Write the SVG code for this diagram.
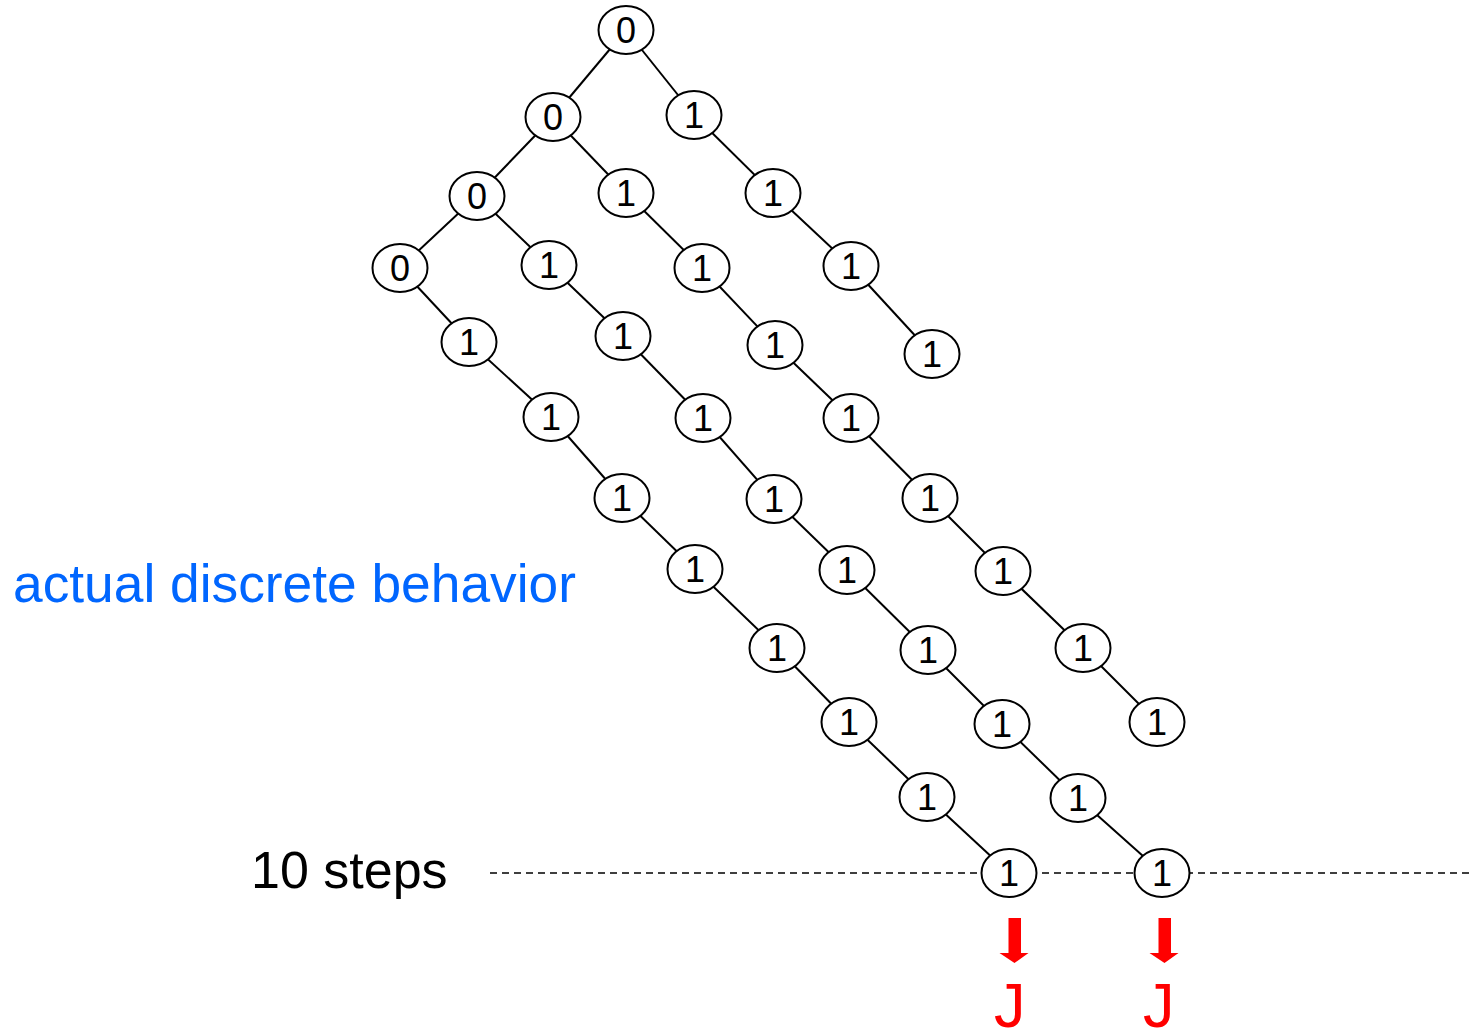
<svg xmlns="http://www.w3.org/2000/svg" width="1473" height="1031" viewBox="0 0 1473 1031">
<style>
.e{stroke:#000;stroke-width:2;fill:none}
.n ellipse{fill:#fff;stroke:#000;stroke-width:2}
.n text{fill:#000;text-anchor:middle}
.arr{fill:#ff0000}
</style>
<defs>
<path id="barrow" d="M-5.5,0 H7 V35 H14.5 L0.5,45 L-14.5,35 H-5.5 Z"/>
</defs>
<rect width="1473" height="1031" fill="#fff"/>
<g id="connectors">
<line x1="490" y1="873" x2="1473" y2="873" stroke="#000" stroke-width="1.5" stroke-dasharray="7,5"/>
<line class="e" x1="626" y1="30" x2="553" y2="117"/>
<line class="e" x1="626" y1="30" x2="694" y2="115"/>
<line class="e" x1="553" y1="117" x2="477" y2="196"/>
<line class="e" x1="553" y1="117" x2="626" y2="193"/>
<line class="e" x1="694" y1="115" x2="773" y2="193"/>
<line class="e" x1="477" y1="196" x2="400" y2="268"/>
<line class="e" x1="477" y1="196" x2="549" y2="265"/>
<line class="e" x1="626" y1="193" x2="702" y2="268"/>
<line class="e" x1="773" y1="193" x2="851" y2="266"/>
<line class="e" x1="400" y1="268" x2="469" y2="342"/>
<line class="e" x1="549" y1="265" x2="623" y2="336"/>
<line class="e" x1="702" y1="268" x2="775" y2="345"/>
<line class="e" x1="851" y1="266" x2="932" y2="354"/>
<line class="e" x1="469" y1="342" x2="551" y2="417"/>
<line class="e" x1="623" y1="336" x2="703" y2="418"/>
<line class="e" x1="775" y1="345" x2="851" y2="418"/>
<line class="e" x1="551" y1="417" x2="622" y2="498"/>
<line class="e" x1="703" y1="418" x2="774" y2="499"/>
<line class="e" x1="851" y1="418" x2="930" y2="498"/>
<line class="e" x1="622" y1="498" x2="695" y2="569"/>
<line class="e" x1="774" y1="499" x2="847" y2="570"/>
<line class="e" x1="930" y1="498" x2="1003" y2="571"/>
<line class="e" x1="695" y1="569" x2="777" y2="648"/>
<line class="e" x1="847" y1="570" x2="928" y2="650"/>
<line class="e" x1="1003" y1="571" x2="1083" y2="648"/>
<line class="e" x1="777" y1="648" x2="849" y2="722"/>
<line class="e" x1="928" y1="650" x2="1002" y2="724"/>
<line class="e" x1="1083" y1="648" x2="1157" y2="722"/>
<line class="e" x1="849" y1="722" x2="927" y2="797"/>
<line class="e" x1="1002" y1="724" x2="1078" y2="798"/>
<line class="e" x1="927" y1="797" x2="1009" y2="873"/>
<line class="e" x1="1078" y1="798" x2="1162" y2="873"/>
</g>
<g font-family="'Liberation Sans', Arial, sans-serif" font-size="36">
<g id="n1" class="n"><ellipse cx="626" cy="30" rx="27.5" ry="24"/><text x="626" y="43">0</text></g>
<g id="n2" class="n"><ellipse cx="553" cy="117" rx="27.5" ry="24"/><text x="553" y="130">0</text></g>
<g id="n3" class="n"><ellipse cx="694" cy="115" rx="27.5" ry="24"/><text x="694" y="128">1</text></g>
<g id="n4" class="n"><ellipse cx="477" cy="196" rx="27.5" ry="24"/><text x="477" y="209">0</text></g>
<g id="n5" class="n"><ellipse cx="626" cy="193" rx="27.5" ry="24"/><text x="626" y="206">1</text></g>
<g id="n6" class="n"><ellipse cx="773" cy="193" rx="27.5" ry="24"/><text x="773" y="206">1</text></g>
<g id="n7" class="n"><ellipse cx="400" cy="268" rx="27.5" ry="24"/><text x="400" y="281">0</text></g>
<g id="n8" class="n"><ellipse cx="549" cy="265" rx="27.5" ry="24"/><text x="549" y="278">1</text></g>
<g id="n9" class="n"><ellipse cx="702" cy="268" rx="27.5" ry="24"/><text x="702" y="281">1</text></g>
<g id="n10" class="n"><ellipse cx="851" cy="266" rx="27.5" ry="24"/><text x="851" y="279">1</text></g>
<g id="n11" class="n"><ellipse cx="469" cy="342" rx="27.5" ry="24"/><text x="469" y="355">1</text></g>
<g id="n12" class="n"><ellipse cx="623" cy="336" rx="27.5" ry="24"/><text x="623" y="349">1</text></g>
<g id="n13" class="n"><ellipse cx="775" cy="345" rx="27.5" ry="24"/><text x="775" y="358">1</text></g>
<g id="n14" class="n"><ellipse cx="932" cy="354" rx="27.5" ry="24"/><text x="932" y="367">1</text></g>
<g id="n15" class="n"><ellipse cx="551" cy="417" rx="27.5" ry="24"/><text x="551" y="430">1</text></g>
<g id="n16" class="n"><ellipse cx="703" cy="418" rx="27.5" ry="24"/><text x="703" y="431">1</text></g>
<g id="n17" class="n"><ellipse cx="851" cy="418" rx="27.5" ry="24"/><text x="851" y="431">1</text></g>
<g id="n18" class="n"><ellipse cx="622" cy="498" rx="27.5" ry="24"/><text x="622" y="511">1</text></g>
<g id="n19" class="n"><ellipse cx="774" cy="499" rx="27.5" ry="24"/><text x="774" y="512">1</text></g>
<g id="n20" class="n"><ellipse cx="930" cy="498" rx="27.5" ry="24"/><text x="930" y="511">1</text></g>
<g id="n21" class="n"><ellipse cx="695" cy="569" rx="27.5" ry="24"/><text x="695" y="582">1</text></g>
<g id="n22" class="n"><ellipse cx="847" cy="570" rx="27.5" ry="24"/><text x="847" y="583">1</text></g>
<g id="n23" class="n"><ellipse cx="1003" cy="571" rx="27.5" ry="24"/><text x="1003" y="584">1</text></g>
<g id="n24" class="n"><ellipse cx="777" cy="648" rx="27.5" ry="24"/><text x="777" y="661">1</text></g>
<g id="n25" class="n"><ellipse cx="928" cy="650" rx="27.5" ry="24"/><text x="928" y="663">1</text></g>
<g id="n26" class="n"><ellipse cx="1083" cy="648" rx="27.5" ry="24"/><text x="1083" y="661">1</text></g>
<g id="n27" class="n"><ellipse cx="849" cy="722" rx="27.5" ry="24"/><text x="849" y="735">1</text></g>
<g id="n28" class="n"><ellipse cx="1002" cy="724" rx="27.5" ry="24"/><text x="1002" y="737">1</text></g>
<g id="n29" class="n"><ellipse cx="1157" cy="722" rx="27.5" ry="24"/><text x="1157" y="735">1</text></g>
<g id="n30" class="n"><ellipse cx="927" cy="797" rx="27.5" ry="24"/><text x="927" y="810">1</text></g>
<g id="n31" class="n"><ellipse cx="1078" cy="798" rx="27.5" ry="24"/><text x="1078" y="811">1</text></g>
<g id="n32" class="n"><ellipse cx="1009" cy="873" rx="27.5" ry="24"/><text x="1009" y="886">1</text></g>
<g id="n33" class="n"><ellipse cx="1162" cy="873" rx="27.5" ry="24"/><text x="1162" y="886">1</text></g>
</g>
<g id="labels" font-family="'Liberation Sans', Arial, sans-serif">
<text x="13" y="602" font-size="53.3" fill="#0066ff">actual discrete behavior</text>
<text x="251" y="888" font-size="52" fill="#000">10 steps</text>
</g>
<g id="j1" font-family="'Liberation Sans', Arial, sans-serif">
<use href="#barrow" class="arr" x="1014" y="918"/>
<text x="994" y="1027" font-size="63" fill="#ff0000">J</text>
</g>
<g id="j2" font-family="'Liberation Sans', Arial, sans-serif">
<use href="#barrow" class="arr" x="1164" y="918"/>
<text x="1143" y="1027" font-size="63" fill="#ff0000">J</text>
</g>
</svg>
